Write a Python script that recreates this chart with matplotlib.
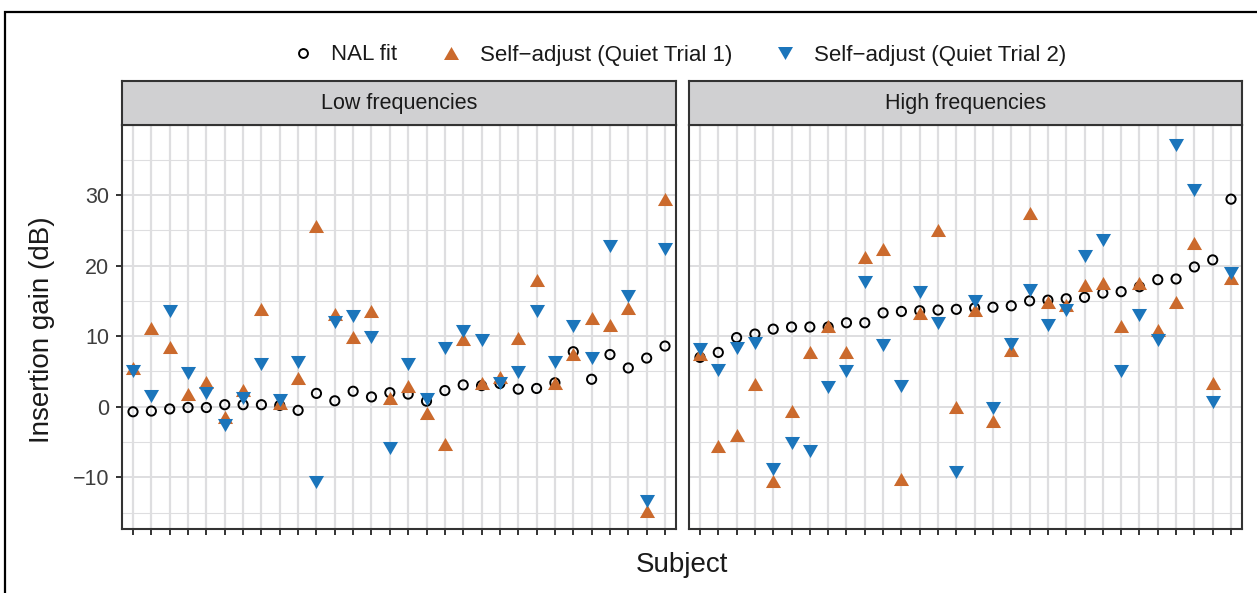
#
# Imports
#

import matplotlib

matplotlib.use("Agg")
import matplotlib.pyplot as plt
import matplotlib.ticker as mplticker
from matplotlib.lines import Line2D
from matplotlib.patches import Rectangle
import numpy as np

#
# Data
#

subjects = np.arange(1, 31)

nal_low = [-0.7, -0.6, -0.3, -0.1, -0.1, 0.3, 0.3, 0.3, 0.2, -0.5,
           1.9, 0.85, 2.2, 1.4, 2.0, 1.8, 0.8, 2.3, 3.1, 3.0,
           3.3, 2.5, 2.6, 3.4, 7.8, 3.9, 7.4, 5.5, 6.9, 8.6]
quiet1_low = [5.5, 11.1, 8.5, 1.8, 3.5, -1.4, 2.4, 13.8, 0.5, 4.1,
              25.6, 13.2, 9.9, 13.6, 1.2, 3.0, -0.9, -5.2, 9.6, 3.4,
              4.2, 9.7, 17.9, 3.4, 7.45, 12.6, 11.6, 14.0, -14.7, 29.4]
quiet2_low = [5.1, 1.6, 13.5, 4.8, 1.9, -2.6, 1.2, 6.0, 0.9, 6.3,
              -10.7, 12.0, 12.9, 9.9, -5.8, 6.0, 1.1, 8.3, 10.7, 9.4,
              3.35, 4.9, 13.6, 6.3, 11.4, 6.9, 22.7, 15.7, -13.3, 22.3]

nal_high = [7.0, 7.7, 9.8, 10.3, 11.0, 11.3, 11.3, 11.3, 11.9, 11.9,
            13.3, 13.5, 13.6, 13.7, 13.8, 14.0, 14.1, 14.3, 15.0, 15.1,
            15.3, 15.5, 16.1, 16.3, 17.0, 18.0, 18.1, 19.8, 20.8, 29.4]
quiet1_high = [7.5, -5.6, -4.0, 3.2, -10.5, -0.6, 7.7, 11.5, 7.7, 21.2,
               22.3, -10.2, 13.3, 25.1, -0.05, 13.7, -2.0, 8.0, 27.5, 14.9,
               14.4, 17.3, 17.6, 11.5, 17.6, 10.9, 14.9, 23.2, 3.35, 18.3]
quiet2_high = [8.2, 5.2, 8.3, 9.1, -8.8, -5.1, -6.3, 2.8, 5.1, 17.7,
               8.8, 3.0, 16.2, 11.8, -9.2, 15.0, -0.1, 8.9, 16.6, 11.6,
               13.7, 21.4, 23.6, 5.1, 13.0, 9.4, 37.1, 30.7, 0.7, 18.9]

panel_titles = ["Low frequencies", "High frequencies"]
series_labels = ["NAL fit", "Self\u2212adjust (Quiet Trial 1)", "Self\u2212adjust (Quiet Trial 2)"]
y_ticks = [-10, 0, 10, 20, 30]

#
# Style
#

W, H = 1257, 593
ORANGE = "#CB6A2D"
BLUE = "#1B75BB"
GRID = "#DEDEE0"
DARK = "#333333"

# equilateral triangles, centred on their bounding box
UP = [(0, 0.75), (-0.866, -0.75), (0.866, -0.75)]
DOWN = [(0, -0.75), (-0.866, 0.75), (0.866, 0.75)]

plt.rcParams["font.family"] = ["Liberation Sans", "DejaVu Sans"]


def px_rect(left, top, right, bottom):
    return [left / W, 1 - bottom / H, (right - left) / W, (bottom - top) / H]


def main() -> None:
    fig = plt.figure(figsize=(W / 100, H / 100), dpi=100)

    panels = [
        (px_rect(122, 125, 676, 529), px_rect(122, 81, 676, 125), nal_low, quiet1_low, quiet2_low),
        (px_rect(689, 125, 1242, 529), px_rect(689, 81, 1242, 125), nal_high, quiet1_high, quiet2_high),
    ]

    for i, (rect, strip_rect, nal, quiet1, quiet2) in enumerate(panels):
        axes = fig.add_axes(rect)
        axes.set_axisbelow(True)

        axes.scatter(subjects, nal, s=44, marker="o", facecolors="none", edgecolors="black", linewidths=1.4, zorder=3)
        axes.scatter(subjects, quiet1, s=118, marker=UP, color=ORANGE, linewidths=0, zorder=3)
        axes.scatter(subjects, quiet2, s=118, marker=DOWN, color=BLUE, linewidths=0, zorder=3)

        axes.set_xlim(0.4, 30.6)
        axes.set_ylim(-17.3, 39.9)
        axes.set_xticks(subjects)
        axes.set_yticks(y_ticks)
        axes.yaxis.set_minor_locator(mplticker.MultipleLocator(5))

        axes.grid(True, which="major", axis="x", color=GRID, linewidth=1.6)
        axes.grid(True, which="major", axis="y", color=GRID, linewidth=1.4)
        axes.grid(True, which="minor", axis="y", color=GRID, linewidth=0.8)

        axes.tick_params(axis="both", which="major", length=4.5, width=1.4, color=DARK,
                         labelsize=15.5, labelcolor="#3D3D3D", pad=4.5)
        axes.tick_params(axis="both", which="minor", length=0)
        axes.tick_params(axis="x", labelbottom=False)
        axes.yaxis.set_major_formatter(mplticker.FuncFormatter(lambda v, _: f"{v:.0f}".replace("-", "\u2212")))
        if i == 1:
            axes.tick_params(axis="y", left=False, labelleft=False)

        for spine in axes.spines.values():
            spine.set_color(DARK)
            spine.set_linewidth(1.5)

        # facet strip
        strip = fig.add_axes(strip_rect)
        strip.set_facecolor("#D0D0D2")
        strip.set_xticks([])
        strip.set_yticks([])
        for spine in strip.spines.values():
            spine.set_color(DARK)
            spine.set_linewidth(1.5)
        strip.text(0.5, 0.5, panel_titles[i], ha="center", va="center", fontsize=15.5, color="#1A1A1A",
                   transform=strip.transAxes)

    # axis titles
    fig.text(42.5 / W, 1 - 330 / H, "Insertion gain (dB)", rotation=90, ha="center", va="center",
             fontsize=20, color="#1A1A1A")
    fig.text(682 / W, 1 - 572 / H, "Subject", ha="center", va="baseline", fontsize=20, color="#1A1A1A")

    # legend
    handles = [
        Line2D([], [], linestyle="none", marker="o", markerfacecolor="none", markeredgecolor="black",
               markeredgewidth=1.4, markersize=6.4),
        Line2D([], [], linestyle="none", marker=UP, color=ORANGE, markeredgewidth=0, markersize=10.8),
        Line2D([], [], linestyle="none", marker=DOWN, color=BLUE, markeredgewidth=0, markersize=10.8),
    ]
    leg = fig.legend(handles, series_labels, loc="center", bbox_to_anchor=(679 / W, 1 - 55 / H), ncol=3,
                     frameon=False, fontsize=16, handlelength=1.0, handletextpad=0.8, columnspacing=1.9)
    for text in leg.get_texts():
        text.set_color("#1A1A1A")

    # outer frame
    fig.add_artist(Rectangle((5 / W, -0.1), 1.2, 1.1 - 12 / H, transform=fig.transFigure,
                             fill=False, edgecolor="black", linewidth=1.6))

    fig.savefig("out.png", dpi=100)


if __name__ == "__main__":
    main()
